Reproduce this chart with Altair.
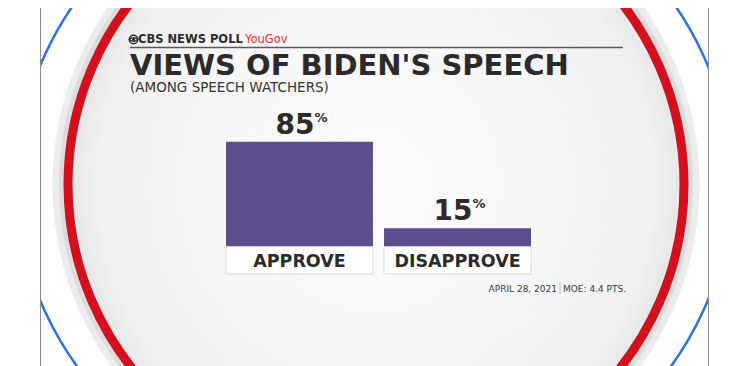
import altair as alt
import pandas as pd

# ---- data ----
categories = ["APPROVE", "DISAPPROVE"]
values = [85, 15]
value_labels = ["85", "15"]
source_text = "CBS NEWS POLL"
partner_text = "YouGov"
title_text = "VIEWS OF BIDEN'S SPEECH"
subtitle_text = "(AMONG SPEECH WATCHERS)"
footer_date = "APRIL 28, 2021"
footer_moe = "MOE: 4.4 PTS."

df = pd.DataFrame({"category": categories, "value": values, "label": value_labels})
one = pd.DataFrame({"k": [0]})

W, H = 669, 358
BAR = "#5b4e8b"
INK = "#2b2b2b"
RED = "#d3111e"
BLUE = "#2f72d4"
FONT = "DejaVu Sans"


def ellipse_path(ratio):
    k = 0.5523
    b = k * ratio
    r = ratio
    return (f"M-1,0C-1,{-b:.4f} {-k},{-r:.4f} 0,{-r:.4f}"
            f"C{k},{-r:.4f} 1,{-b:.4f} 1,0"
            f"C1,{b:.4f} {k},{r:.4f} 0,{r:.4f}"
            f"C{-k},{r:.4f} -1,{b:.4f} -1,0Z")


def oval(cx, cy, rx, ry, **kw):
    return alt.Chart(one).mark_point(
        shape=ellipse_path(ry / rx), size=(2 * rx) ** 2, opacity=1, clip=True, **kw
    ).encode(x=alt.value(cx), y=alt.value(cy))


gradient = {
    "gradient": "radial",
    "stops": [
        {"offset": 0, "color": "#fcfcfc"},
        {"offset": 0.6, "color": "#f7f7f7"},
        {"offset": 0.9, "color": "#f0f0f0"},
        {"offset": 1, "color": "#e6e6e6"},
    ],
}

band2 = oval(336, 176.5, 320, 313, filled=False, stroke="#ececec", strokeWidth=7)
band1 = oval(336, 176.5, 314.5, 307.5, filled=False, stroke="#dcdcdc", strokeWidth=5)
inner = oval(336, 176.5, 308, 301, filled=True, fill=gradient, strokeWidth=0)
red = oval(336, 176.5, 308, 301, filled=False, stroke=RED, strokeWidth=9)
blue = oval(334, 175, 357, 330, filled=False, stroke=BLUE, strokeWidth=2.5)

left_border = alt.Chart(one).mark_rule(color="#8c8c8c", strokeWidth=1).encode(
    x=alt.value(0.5), y=alt.value(0), y2=alt.value(H))
right_border = alt.Chart(one).mark_rule(color="#8c8c8c", strokeWidth=1).encode(
    x=alt.value(W - 0.5), y=alt.value(0), y2=alt.value(H))

# CBS eye
eye_outer = alt.Chart(one).mark_point(shape="circle", size=72, filled=False, stroke=INK,
                                      strokeWidth=1.4, opacity=1).encode(
    x=alt.value(93.5), y=alt.value(31.5))
eye_lens = alt.Chart(one).mark_point(shape="M-1,0Q0,-0.9 1,0Q0,0.9 -1,0Z", size=72,
                                     filled=False, stroke=INK, strokeWidth=1.1, opacity=1).encode(
    x=alt.value(93.5), y=alt.value(31.5))
eye_pupil = alt.Chart(one).mark_point(shape="circle", size=9, filled=True, color=INK,
                                      opacity=1).encode(x=alt.value(93.5), y=alt.value(31.5))


def label(text, x, y, size, weight="normal", color=INK, align="left"):
    return alt.Chart(one).mark_text(text=text, font=FONT, fontSize=size, fontWeight=weight,
                                    color=color, align=align, baseline="alphabetic").encode(
        x=alt.value(x), y=alt.value(y))


src = label(source_text, 98, 35, 11.5, "bold")
partner = label(partner_text, 205, 35, 11.5, "normal", "#e4312b")
top_rule = alt.Chart(one).mark_rule(color="#5a5a5a", strokeWidth=1.4).encode(
    x=alt.value(90), x2=alt.value(583), y=alt.value(39.5))
title = label(title_text, 90, 66.5, 29, "bold")
subtitle = label(subtitle_text, 90, 83.5, 13.5, "normal", "#333333")

date = label(footer_date, 517, 283.7, 9, "normal", "#3a3a3a", "right")
moe = label(footer_moe, 523, 283.7, 9, "normal", "#3a3a3a", "left")
sep = alt.Chart(one).mark_rule(color="#bdbdbd", strokeWidth=1).encode(
    x=alt.value(520), y=alt.value(274), y2=alt.value(286))

x_enc = alt.X("category:N", sort=categories, axis=None,
              scale=alt.Scale(range=[186, 491], paddingInner=0.07, paddingOuter=0))
y_enc = alt.Y("value:Q", axis=None, scale=alt.Scale(domain=[0, 100], range=[238.7, 115.2]))

base = alt.Chart(df)
bars = base.mark_bar(color=BAR).encode(x=x_enc, y=y_enc)
boxes = base.mark_bar(fill="white", stroke="#d9d9d9", strokeWidth=1).encode(
    x=x_enc, y=alt.value(238.7), y2=alt.value(266))
cat_text = base.mark_text(font=FONT, fontSize=17.5, fontWeight="bold", color=INK,
                          align="center", baseline="alphabetic").encode(
    x=x_enc, y=alt.value(258.7), text="category:N")
val_text = base.mark_text(font=FONT, fontSize=28, fontWeight="bold", color=INK,
                          align="right", baseline="alphabetic", dx=15, dy=-8).encode(
    x=x_enc, y=y_enc, text="label:N")
pct_text = base.mark_text(text="%", font=FONT, fontSize=13, fontWeight="bold", color=INK,
                          align="left", baseline="alphabetic", dx=15, dy=-20).encode(
    x=x_enc, y=y_enc)

chart = alt.layer(
    band2, band1, inner, red, blue, left_border, right_border,
    eye_outer, eye_lens, eye_pupil, src, partner, top_rule, title, subtitle,
    bars, boxes, cat_text, val_text, pct_text, date, moe, sep,
).properties(
    width=W, height=H,
    padding={"left": 32, "top": 0, "right": 0, "bottom": 0},
    autosize=alt.AutoSizeParams(type="none"),
).configure_view(strokeWidth=0, fill="white")

chart.save("out.html", embed_options={"renderer": "svg", "actions": False})
